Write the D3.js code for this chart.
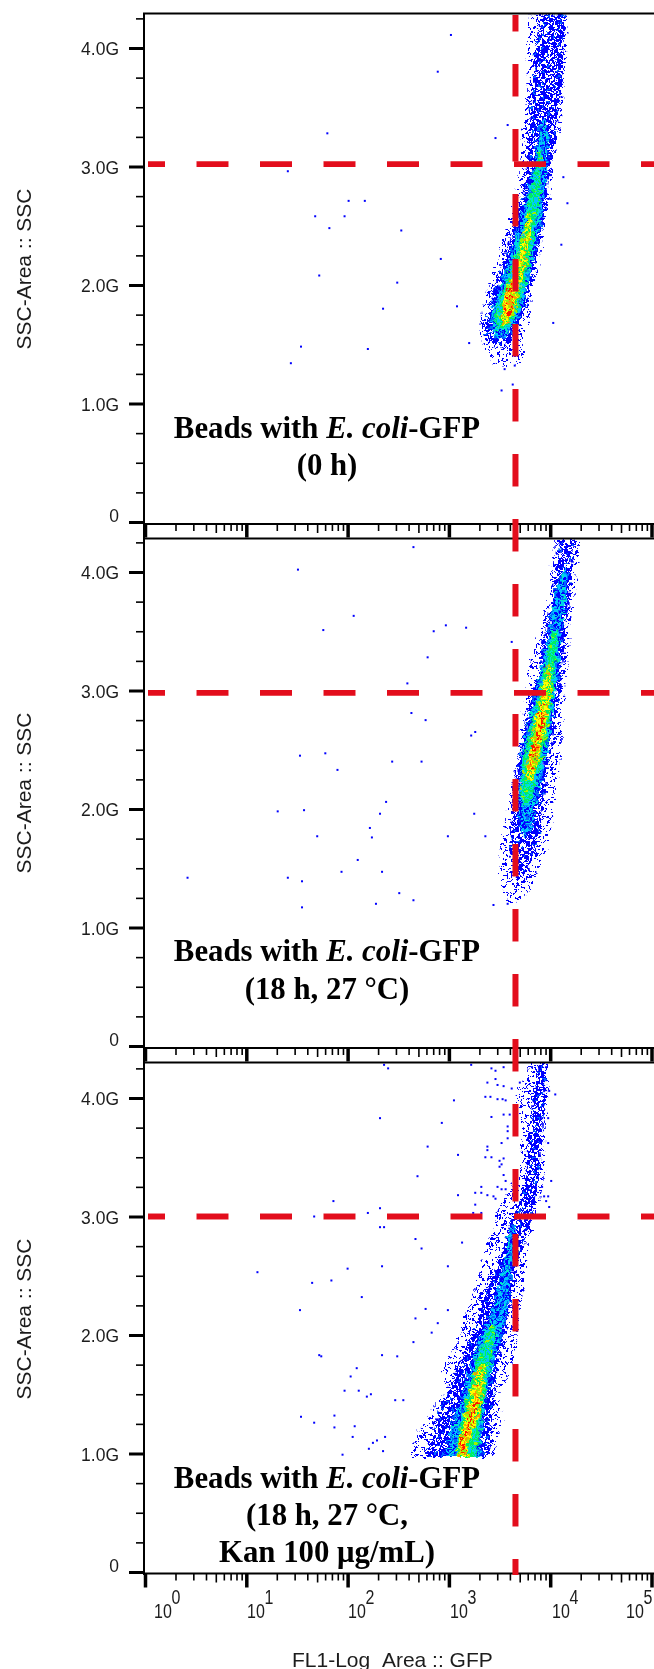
<!DOCTYPE html>
<html lang="en">
<head>
<meta charset="UTF-8">
<title>Beads with E. coli-GFP</title>
<script src="https://d3js.org/d3.v7.min.js"></script>
<style>
    body { margin: 0; background: #fff; }
    svg { display: block; }
    .sans { font-family: "Liberation Sans", Arial, sans-serif; fill: #1c1c1c; }
    .note { font-family: "Liberation Serif", "Times New Roman", serif; font-weight: bold; font-size: 30.8px; fill: #000; text-anchor: middle; }
    .axis path { display: none; }
    .axis line { stroke: #000; }
</style>
</head>
<body>
<svg id="chart" width="654" height="1669"></svg>
<script>
// plume outlines: [SSC in G, log10 FL1 low, log10 FL1 high]
const p1Sparse = [[4.29,3.78,4.17],[4.00,3.77,4.17],[3.75,3.79,4.15],[3.50,3.75,4.12],[3.25,3.72,4.08],[3.00,3.70,4.02],[2.75,3.66,4.00],[2.50,3.58,3.95],[2.25,3.48,3.90],[2.00,3.39,3.85],[1.85,3.34,3.80],[1.70,3.31,3.80],[1.60,3.29,3.75],[1.50,3.34,3.73],[1.40,3.38,3.75],[1.32,3.47,3.70]];
const p1Blue = [[4.29,3.93,4.15],[4.00,3.85,4.13],[3.75,3.84,4.12],[3.50,3.80,4.08],[3.25,3.78,4.06],[3.00,3.77,4.00],[2.75,3.72,3.97],[2.50,3.64,3.93],[2.25,3.55,3.87],[2.00,3.45,3.82],[1.85,3.41,3.77],[1.70,3.37,3.72],[1.60,3.35,3.66],[1.52,3.39,3.60],[1.48,3.46,3.54]];
const p1Cyan = [[3.39,3.91,3.96],[3.22,3.87,3.99],[3.00,3.83,3.98],[2.75,3.76,3.94],[2.50,3.69,3.91],[2.25,3.60,3.84],[2.00,3.50,3.78],[1.85,3.44,3.74],[1.70,3.41,3.68],[1.60,3.42,3.60],[1.55,3.45,3.55]];
const p1Green = [[3.14,3.88,3.91],[2.75,3.80,3.90],[2.50,3.74,3.86],[2.25,3.65,3.81],[2.00,3.55,3.75],[1.85,3.48,3.71],[1.70,3.45,3.64],[1.62,3.47,3.56]];
const p1Yellow = [[2.59,3.77,3.82],[2.38,3.72,3.80],[2.25,3.69,3.78],[2.00,3.58,3.72],[1.85,3.53,3.68],[1.75,3.51,3.64],[1.66,3.52,3.58]];
const p1Red = [[2.04,3.60,3.63],[1.92,3.57,3.66],[1.79,3.54,3.63],[1.72,3.55,3.59]];

const p2Sparse = [[4.27,4.05,4.29],[4.08,4.02,4.27],[3.79,3.98,4.24],[3.51,3.90,4.19],[3.23,3.80,4.19],[2.99,3.77,4.13],[2.67,3.70,4.12],[2.39,3.67,4.10],[2.10,3.60,4.05],[1.88,3.55,4.02],[1.65,3.50,3.97],[1.49,3.50,3.88],[1.32,3.53,3.82],[1.21,3.57,3.67]];
const p2Blue = [[4.29,4.10,4.24],[4.08,4.06,4.22],[3.79,4.02,4.19],[3.51,3.95,4.15],[3.23,3.90,4.12],[2.99,3.83,4.10],[2.67,3.74,4.04],[2.39,3.68,3.98],[2.10,3.63,3.94],[1.88,3.62,3.91],[1.65,3.60,3.85],[1.49,3.65,3.78],[1.40,3.68,3.73]];
const p2Cyan = [[4.02,4.13,4.16],[3.85,4.05,4.17],[3.59,4.00,4.13],[3.34,3.94,4.10],[2.99,3.85,4.06],[2.67,3.76,4.01],[2.39,3.70,3.95],[2.10,3.68,3.88],[1.88,3.70,3.83],[1.78,3.73,3.80]];
const p2Green = [[3.51,4.02,4.08],[3.34,3.98,4.06],[2.99,3.89,4.03],[2.67,3.80,3.98],[2.39,3.73,3.91],[2.16,3.70,3.84],[2.03,3.72,3.78]];
const p2Yellow = [[3.22,3.97,4.02],[2.99,3.92,4.01],[2.67,3.83,3.96],[2.39,3.77,3.88],[2.24,3.75,3.83]];
const p2Red = [[2.88,3.91,3.96],[2.67,3.85,3.93],[2.46,3.80,3.88],[2.33,3.79,3.83]];

const p3Sparse = [[4.30,3.80,3.98],[3.98,3.65,4.00],[3.73,3.72,3.95],[3.39,3.70,3.95],[3.00,3.45,3.87],[2.78,3.39,3.78],[2.57,3.31,3.77],[2.35,3.24,3.73],[2.15,3.14,3.70],[1.93,3.08,3.67],[1.73,2.94,3.62],[1.51,2.94,3.50],[1.34,2.81,3.54],[1.17,2.68,3.50],[0.97,2.63,3.44]];
const p3Blue = [[4.30,3.88,3.95],[3.98,3.83,3.95],[3.81,3.80,3.93],[3.56,3.77,3.91],[3.31,3.75,3.88],[3.14,3.70,3.85],[3.00,3.62,3.82],[2.78,3.55,3.75],[2.57,3.47,3.68],[2.35,3.34,3.63],[2.15,3.29,3.58],[1.93,3.18,3.53],[1.73,3.08,3.48],[1.51,2.98,3.45],[1.34,2.89,3.43],[1.17,2.84,3.40],[0.97,2.74,3.40]];
const p3Cyan = [[2.93,3.60,3.66],[2.72,3.57,3.65],[2.35,3.47,3.60],[2.15,3.39,3.57],[1.93,3.28,3.50],[1.73,3.21,3.43],[1.51,3.13,3.38],[1.34,3.06,3.35],[1.17,3.01,3.32],[0.97,2.96,3.32]];
const p3Green = [[2.08,3.40,3.47],[1.93,3.33,3.45],[1.73,3.25,3.40],[1.51,3.19,3.37],[1.34,3.13,3.32],[1.17,3.09,3.30],[0.97,3.06,3.27]];
const p3Yellow = [[1.75,3.30,3.36],[1.66,3.26,3.36],[1.51,3.22,3.34],[1.34,3.16,3.31],[1.17,3.11,3.21],[0.97,3.08,3.18]];
const p3Red = [[1.58,3.26,3.31],[1.45,3.23,3.30],[1.28,3.18,3.25],[1.11,3.12,3.18],[0.97,3.10,3.13]];

// isolated events: [log10 FL1, SSC in G]
const p1Dots = [[3.02,4.11],[2.89,3.80],[1.80,3.28],[3.46,3.24],[3.58,3.35],[1.41,2.96],[2.01,2.71],[2.17,2.71],[1.68,2.58],[1.97,2.58],[1.82,2.48],[2.53,2.46],[2.92,2.22],[1.72,2.08],[2.49,2.02],[2.35,1.80],[3.08,1.82],[1.54,1.48],[2.20,1.46],[1.44,1.34],[3.20,1.51],[3.55,1.29],[3.63,1.16],[3.52,1.11],[4.13,2.91],[4.17,2.69],[4.11,2.34],[4.03,1.68],[3.65,1.32]];
const p2Dots = [[2.65,4.21],[1.51,4.02],[2.06,3.63],[1.76,3.51],[2.85,3.50],[2.97,3.55],[3.17,3.53],[3.62,3.41],[2.79,3.28],[2.59,3.06],[2.63,2.81],[2.77,2.75],[3.26,2.65],[3.22,2.62],[1.53,2.45],[1.78,2.47],[2.44,2.40],[2.73,2.40],[1.90,2.33],[2.38,2.06],[1.31,1.98],[1.57,1.99],[2.32,1.96],[3.25,1.96],[2.22,1.84],[1.70,1.77],[2.24,1.76],[2.99,1.77],[3.36,1.77],[2.10,1.57],[1.94,1.47],[2.34,1.47],[0.42,1.42],[1.41,1.42],[1.55,1.39],[2.51,1.29],[2.65,1.23],[1.55,1.17],[2.28,1.20],[3.44,1.19],[3.58,1.20]];
const p3Dots = [[2.36,4.28],[2.40,4.25],[3.22,4.28],[3.05,3.98],[2.32,3.83],[2.93,3.79],[2.79,3.59],[3.09,3.52],[2.69,3.34],[3.09,3.18],[1.86,3.13],[2.32,3.07],[2.20,3.03],[1.67,3.00],[2.32,2.91],[2.36,2.91],[2.67,2.81],[2.73,2.73],[3.13,2.78],[1.11,2.53],[2.00,2.56],[2.34,2.58],[2.99,2.58],[1.65,2.44],[1.84,2.46],[2.14,2.32],[1.53,2.21],[2.77,2.22],[2.99,2.21],[2.67,2.14],[2.89,2.10],[2.83,2.02],[2.65,1.94],[1.72,1.83],[1.74,1.82],[2.34,1.83],[2.49,1.82],[2.09,1.72],[2.03,1.65],[1.97,1.53],[2.11,1.53],[2.19,1.48],[2.23,1.50],[2.47,1.45],[2.55,1.45],[1.54,1.31],[1.87,1.32],[1.67,1.26],[1.87,1.22],[2.07,1.23],[2.05,1.14],[2.37,1.14],[2.29,1.11],[2.25,1.09],[2.21,1.04],[2.35,1.02],[1.95,0.99],
    [3.38,4.13],[3.36,4.01],[3.41,4.01],[3.48,3.99],[3.53,3.99],[3.56,3.98],[3.42,3.84],[3.54,3.86],[3.60,3.86],[3.58,3.76],[3.58,3.72],[3.58,3.66],[3.52,3.62],[3.38,3.59],[3.38,3.56],[3.36,3.50],[3.42,3.50],[3.50,3.47],[3.54,3.49],[3.52,3.44],[3.50,3.42],[3.32,3.25],[3.26,3.20],[3.32,3.20],[3.38,3.18],[3.44,3.17],[3.46,3.15],[3.26,3.10],[3.24,3.03],[3.32,3.03],[3.48,3.25],[3.52,3.23],[3.56,3.23],[3.54,3.35],[3.56,3.30],[4.01,3.30],[4.05,4.03],[3.99,4.06],[3.94,4.06],[3.98,3.83],[3.92,3.83],[3.98,3.62],[3.92,3.25],[3.94,3.17],[3.98,3.17],[3.96,3.13],[3.99,3.08],[3.62,4.08],[3.70,4.13],[3.54,4.26],[3.46,4.23],[3.42,4.25],[3.46,4.16],[3.48,4.11],[3.54,4.10],[3.82,4.26],[3.96,4.26]];

const gateFl = 4540;
const gateSsc = [3.02, 2.98, 3.00];
const yMajor = [0, 1, 2, 3, 4];
const yMinor = [0.25, 0.5, 0.75, 1.25, 1.5, 1.75, 2.25, 2.5, 2.75, 3.25, 3.5, 3.75, 4.25];
const notes = [
    [["Beads with ", ["E. coli"], "-GFP"], ["(0 h)"]],
    [["Beads with ", ["E. coli"], "-GFP"], ["(18 h, 27 °C)"]],
    [["Beads with ", ["E. coli"], "-GFP"], ["(18 h, 27 °C,"], ["Kan 100 μg/mL)"]]
];
const xLabelLeft = [154, 247, 348, 450, 552, 626];

const panels = [
    { zero: 522, top: 13, dots: p1Dots, bands: [p1Sparse, p1Blue, p1Cyan, p1Green, p1Yellow, p1Red], noteY: [437.5, 475] },
    { zero: 1046, top: 538, dots: p2Dots, bands: [p2Sparse, p2Blue, p2Cyan, p2Green, p2Yellow, p2Red], noteY: [961, 999] },
    { zero: 1572, top: 1062, dots: p3Dots, bands: [p3Sparse, p3Blue, p3Cyan, p3Green, p3Yellow, p3Red], noteY: [1487.7, 1524.5, 1561.7] }
];
const pxPerG = 118.5;

// speckle of the density levels, one character per 2px cell
const ink = { b: "#0000ff", e: "#0068ff", c: "#00c4ff", m: "#00e8c8", g: "#00ee60", h: "#a0f000", y: "#ffff00", o: "#ff9800", r: "#ff1800" };
const tiles = [
    ["b....b...b..","...b...b...b","b....b......",".b..b.....b.","...b...b.b..","b.....b.....",".b.b....b..b","....b.b.....","..b......b..",".b..b...b..b","....b.b.....","b.......b..."],
    ["b.b.bb.eb.b.","b.bb.bb.b.bb",".bbe.b.bb..b",".b.bb.bb.eb.","bb..bb.b.bb.","b.bb.b.eb..b","be..bbb.b.bb","bb.b.eb..bb.",".bbb.b.bb.eb",".b.bb..bb.bb","bb.eb.bb..b.","b.bb.b.bbb.b"],
    ["cbcbemcecbce","ebcbecbcbecm","bcecbmcebcbe","mcbecbebmceb","cebcbcecbcbe","ecmcebebcbmc","cbcebmcbecbe","ebcbcecbmcec","cmebcbecbecb","bcebcmcebcbc","cbmebcecbeme","ecbcbemcbceb"],
    ["gmgcgcgmgcgg","mgcgmgcggmcg","ggcgmcgmghgm","cmgcghgcmcgg","gmgccgmggcgm","ggmcggmcgmgc","hgcmgmgcgcgm","gmgccghgmcgg","mcggcgmggmgc","ggmcggcghcgm","gcghgmgmgcmg","mggcmghgcggh"],
    ["hghohhgyyhoy","hgyhgyoghgyg","yogyhgghgyoh","gyhgohhgyhgy","yghgyyoghgyo","hyoghhgyyogh","ygyhoghgyyhg","ohgygyoyhgyg","yyoghghhyohh","hgyhohhgyygo","yhghyoyghgyy","ohygyhgoyhgh"],
    ["oyrhoyrhyoyh","yoryohyryoyo","hyoroyhroyoy","royohyrhyoyr","oyhroyoyrhoy","yrohyoryhyro","oyhrohyoyrhy","yoohryoyhyoo","ryohyroyoyro","oyhorryohroy","royhoyhroyhy","oyhryohroyoh"]
];

const svg = d3.select("#chart");
const defs = svg.append("defs");
tiles.forEach((tile, k) => {
    const pat = defs.append("pattern").attr("id", "lvl" + k)
        .attr("patternUnits", "userSpaceOnUse").attr("width", 24).attr("height", 24);
    tile.forEach((row, j) => row.split("").forEach((ch, i) => {
        if (ch !== ".") pat.append("rect").attr("x", i * 2).attr("y", j * 2).attr("width", 2).attr("height", 2).attr("fill", ink[ch]);
    }));
});
defs.append("filter").attr("id", "soft").attr("filterUnits", "userSpaceOnUse")
    .attr("x", 0).attr("y", 0).attr("width", 654).attr("height", 1669)
    .append("feGaussianBlur").attr("stdDeviation", 0.4);
// roughens the outlines and breaks up the repeat of the tiles
const rough = defs.append("filter").attr("id", "rough").attr("filterUnits", "userSpaceOnUse")
    .attr("x", 0).attr("y", 0).attr("width", 654).attr("height", 1669)
    .attr("color-interpolation-filters", "sRGB");
rough.append("feTurbulence").attr("type", "fractalNoise").attr("baseFrequency", 0.22)
    .attr("numOctaves", 2).attr("seed", 4).attr("result", "n");
rough.append("feDisplacementMap").attr("in", "SourceGraphic").attr("in2", "n").attr("scale", 9)
    .attr("xChannelSelector", "R").attr("yChannelSelector", "G");

const root = svg.append("g").attr("filter", "url(#soft)");

const x = d3.scaleLog().domain([1, 1e5]).range([145, 651.5]);
const logX = d => x(Math.pow(10, d));
const xTicks = x.ticks();
const isDecade = v => Math.abs(Math.log10(v) - Math.round(Math.log10(v))) < 1e-9;
const isFive = v => String(v)[0] === "5";

function decadeAxis(y, height) {
    const g = root.append("g").attr("class", "axis").attr("transform", `translate(0,${y})`)
        .call(d3.axisBottom(x).tickValues(xTicks).tickFormat(""));
    g.selectAll(".tick line")
        .attr("y2", d => isDecade(d) ? height : isFive(d) ? 9 : 7)
        .attr("stroke-width", d => isDecade(d) ? 3.5 : 1.6);
}

panels.forEach((p, i) => {
    const y = d3.scaleLinear().domain([0, 4.3]).range([p.zero, p.zero - 4.3 * pxPerG]);

    // density levels, sparse fringe first
    const clipId = "panel" + i;
    defs.append("clipPath").attr("id", clipId).append("rect")
        .attr("x", 145).attr("y", p.top).attr("width", 510).attr("height", p.zero - p.top);
    const plume = root.append("g").attr("clip-path", `url(#${clipId})`)
        .append("g").attr("filter", "url(#rough)");
    p.bands.forEach((band, k) => {
        plume.append("path").datum(band)
            .attr("fill", `url(#lvl${k})`)
            .attr("d", d3.area().y(r => y(r[0])).x0(r => logX(r[1])).x1(r => logX(r[2])));
    });

    root.append("g").selectAll("rect").data(p.dots).join("rect")
        .attr("x", d => logX(d[0]) - 1).attr("y", d => y(d[1]) - 1)
        .attr("width", 2).attr("height", 2).attr("fill", "#0000ff");

    // y axis, majors and minors
    const ax = root.append("g").attr("class", "axis").attr("transform", "translate(144,0)");
    ax.call(d3.axisLeft(y).tickValues(yMajor.concat(yMinor)).tickFormat(""));
    ax.selectAll(".tick line")
        .attr("x2", d => yMajor.includes(d) ? -15 : -8)
        .attr("stroke-width", d => yMajor.includes(d) ? 3 : 1.6);

    yMajor.forEach(v => {
        root.append("text").attr("class", "sans")
            .attr("transform", `translate(119,${y(v) + (v === 0 ? 0 : 7)}) scale(1,1.08)`)
            .attr("text-anchor", "end").attr("font-size", 17.5)
            .text(v === 0 ? "0" : v.toFixed(1) + "G");
    });

    root.append("text").attr("class", "sans").attr("font-size", 21).attr("text-anchor", "middle")
        .attr("transform", `translate(31,${p.zero - 253}) rotate(-90)`)
        .text("SSC-Area :: SSC");

    notes[i].forEach((line, n) => {
        const t = root.append("text").attr("class", "note").attr("x", 327).attr("y", p.noteY[n]);
        line.forEach(part => {
            const s = t.append("tspan");
            if (Array.isArray(part)) s.attr("font-style", "italic").text(part[0]);
            else s.text(part);
        });
    });

    // strip of decade ticks under the two upper panels
    if (i < 2) {
        decadeAxis(p.zero + 2, 13.5);
        root.append("line").attr("x1", 144).attr("x2", 654)
            .attr("y1", p.zero + 2).attr("y2", p.zero + 2).attr("stroke", "#000").attr("stroke-width", 2);
    }
    // top border of the panel
    root.append("line").attr("x1", 143).attr("x2", 654)
        .attr("y1", p.top + 0.5).attr("y2", p.top + 0.5).attr("stroke", "#000").attr("stroke-width", 2);

    // horizontal gate
    root.append("line").attr("x1", 148).attr("x2", 654)
        .attr("y1", y(gateSsc[i])).attr("y2", y(gateSsc[i]))
        .attr("stroke", "#e30f1e").attr("stroke-width", 5.8)
        .attr("stroke-dasharray", "32 31.5").attr("stroke-dashoffset", 15);
});

// left spine and bottom axis
root.append("line").attr("x1", 144).attr("x2", 144).attr("y1", 13).attr("y2", 1575)
    .attr("stroke", "#000").attr("stroke-width", 2);
root.append("line").attr("x1", 144).attr("x2", 654).attr("y1", 1573.5).attr("y2", 1573.5)
    .attr("stroke", "#000").attr("stroke-width", 2);
decadeAxis(1573.5, 14);

// vertical gate runs through all three panels
root.append("line").attr("x1", x(gateFl)).attr("x2", x(gateFl)).attr("y1", 15).attr("y2", 1575)
    .attr("stroke", "#e30f1e").attr("stroke-width", 6)
    .attr("stroke-dasharray", "32.6 32.4").attr("stroke-dashoffset", 16);

xLabelLeft.forEach((left, i) => {
    root.append("text").attr("class", "sans").attr("font-size", 16)
        .attr("transform", `translate(${left},1618) scale(1,1.25)`).text("10");
    root.append("text").attr("class", "sans").attr("font-size", 16)
        .attr("transform", `translate(${left + 17.5},1604) scale(1,1.25)`).text(i);
});

root.append("text").attr("class", "sans").attr("font-size", 21)
    .attr("x", 292).attr("y", 1667).text("FL1-Log_Area :: GFP");
</script>
</body>
</html>
